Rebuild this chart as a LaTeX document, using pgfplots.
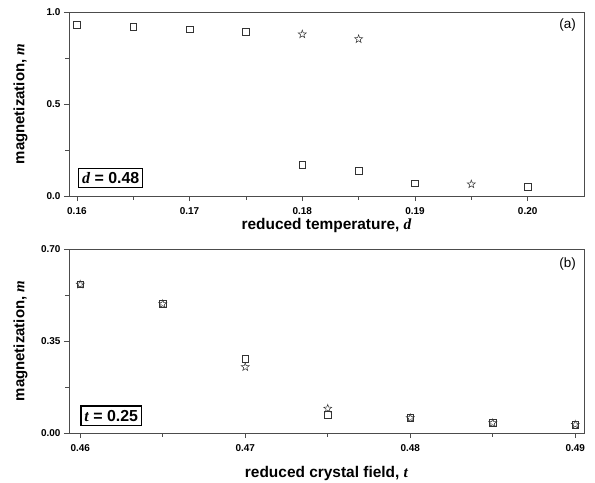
\documentclass[border=0pt]{standalone}
\usepackage{fontspec}
\setmainfont{Liberation Sans}
\newfontfamily\tnr{Liberation Serif}
\usepackage{pgfplots}
\pgfplotsset{compat=1.18}
\pgfdeclareplotmark{ostar}{%
  \pgfpathmoveto{\pgfpointpolar{90}{\pgfplotmarksize}}%
  \pgfpathlineto{\pgfpointpolar{126}{0.4\pgfplotmarksize}}%
  \pgfpathlineto{\pgfpointpolar{162}{\pgfplotmarksize}}%
  \pgfpathlineto{\pgfpointpolar{198}{0.4\pgfplotmarksize}}%
  \pgfpathlineto{\pgfpointpolar{234}{\pgfplotmarksize}}%
  \pgfpathlineto{\pgfpointpolar{270}{0.4\pgfplotmarksize}}%
  \pgfpathlineto{\pgfpointpolar{306}{\pgfplotmarksize}}%
  \pgfpathlineto{\pgfpointpolar{342}{0.4\pgfplotmarksize}}%
  \pgfpathlineto{\pgfpointpolar{18}{\pgfplotmarksize}}%
  \pgfpathlineto{\pgfpointpolar{54}{0.4\pgfplotmarksize}}%
  \pgfpathclose\pgfusepathqstroke}
\newcommand{\ivar}[1]{{\tnr\bfseries\itshape #1}}
\pgfplotsset{
  myax/.style={
    scale only axis, width=515bp, height=184bp,
    axis line style={black!70, line width=0.6pt},
    tick align=outside, xtick pos=bottom, ytick pos=left,
    major tick length=5bp, minor tick length=3.5bp,
    tick style={black!70, line width=0.6pt},
    minor x tick num=1, minor y tick num=1,
    tick label style={font=\fontsize{10}{11}\selectfont\bfseries},
    xticklabel style={yshift=-3bp},
    /pgf/number format/assume math mode=true,
    every axis y label/.style={at={(axis description cs:-0.094,0.5)},rotate=90,anchor=center,font=\fontsize{15}{17}\selectfont\bfseries},
    every axis x label/.style={at={(axis description cs:0.5,-0.16)},anchor=center,font=\fontsize{15.5}{17}\selectfont\bfseries},
  },
  sq/.style={only marks, mark=square, mark size=3.3bp, black!80, mark options={line width=0.6pt}},
  st/.style={only marks, mark=ostar, mark size=4.2bp, black!80, mark options={line width=0.5pt}},
}
\begin{document}
\begin{tikzpicture}
\useasboundingbox (0bp,0bp) rectangle (595bp,-483bp);
\begin{axis}[myax, at={(69bp,-12bp)}, anchor=north west,
  xmin=0.1593, xmax=0.2050, ymin=0, ymax=1,
  xtick={0.16,0.17,0.18,0.19,0.20},
  xticklabel style={/pgf/number format/.cd,fixed,fixed zerofill,precision=2},
  ytick={0,0.5,1},
  yticklabel style={/pgf/number format/.cd,fixed,fixed zerofill,precision=1},
  scaled x ticks=false,
  xlabel={reduced temperature, \ivar{d}},
  ylabel={magnetization, \ivar{m}},
  clip=false]
\addplot[sq] coordinates {(0.16,0.930) (0.165,0.920) (0.17,0.907) (0.175,0.893) (0.18,0.168) (0.185,0.136) (0.19,0.070) (0.20,0.050)};
\addplot[st] coordinates {(0.18,0.879) (0.185,0.853) (0.195,0.064)};
\node[draw=black, line width=1.2pt, fill=white, inner xsep=3.5bp, inner ysep=4bp, font=\fontsize{16}{18}\selectfont\bfseries, anchor=center] at (axis description cs:0.081,0.098) {\ivar{d} = 0.48};
\node[font=\fontsize{13.5}{15}\selectfont, anchor=center] at (axis description cs:0.968,0.93) {(a)};
\end{axis}
\begin{axis}[myax, at={(69bp,-249bp)}, anchor=north west,
  xmin=0.45932, xmax=0.49053, ymin=0, ymax=0.70,
  xtick={0.46,0.47,0.48,0.49},
  xticklabel style={/pgf/number format/.cd,fixed,fixed zerofill,precision=2},
  ytick={0,0.35,0.70},
  yticklabel style={/pgf/number format/.cd,fixed,fixed zerofill,precision=2},
  scaled x ticks=false, scaled y ticks=false,
  xlabel={reduced crystal field, \ivar{t}},
  ylabel={magnetization, \ivar{m}},
  every axis x label/.style={at={(axis description cs:0.5,-0.22)},anchor=center,font=\fontsize{15.5}{17}\selectfont\bfseries},
  clip=false]
\addplot[sq] coordinates {(0.46,0.565) (0.465,0.491) (0.47,0.283) (0.475,0.070) (0.48,0.057) (0.485,0.038) (0.49,0.032)};
\addplot[st] coordinates {(0.46,0.565) (0.465,0.491) (0.47,0.251) (0.475,0.093) (0.48,0.057) (0.485,0.038) (0.49,0.032)};
\node[draw=black, line width=1.2pt, fill=white, inner xsep=3.5bp, inner ysep=4bp, font=\fontsize{16}{18}\selectfont\bfseries, anchor=center] at (axis description cs:0.082,0.094) {\ivar{t} = 0.25};
\node[font=\fontsize{13.5}{15}\selectfont, anchor=center] at (axis description cs:0.968,0.92) {(b)};
\end{axis}
\end{tikzpicture}
\end{document}
